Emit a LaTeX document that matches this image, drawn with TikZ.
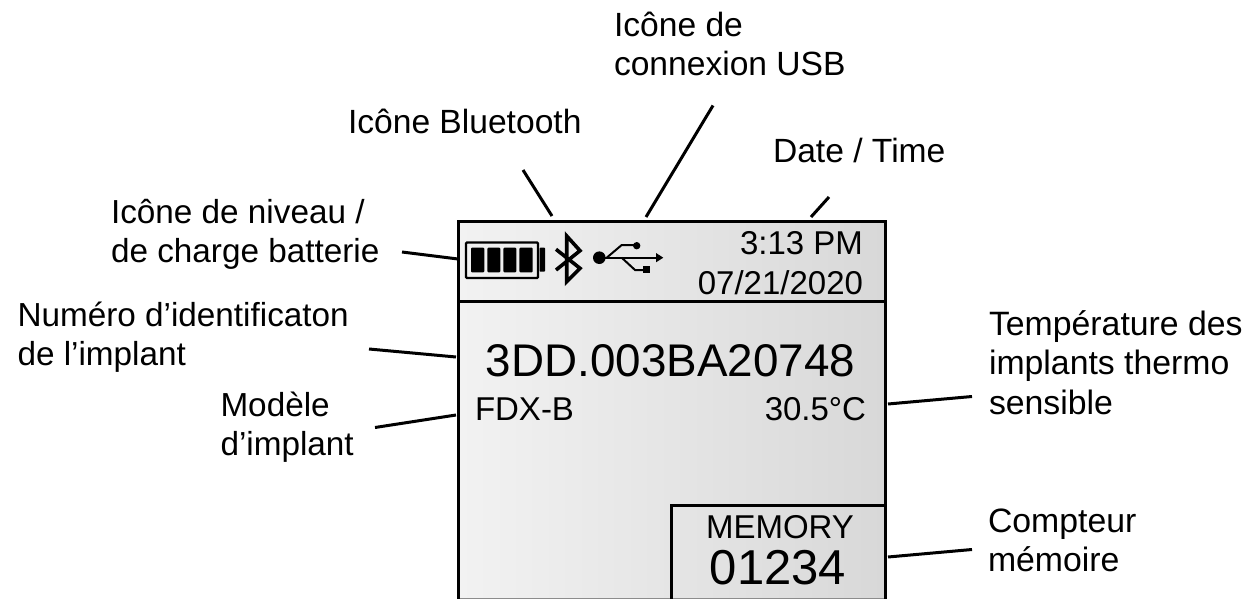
\documentclass[tikz,border=0pt]{standalone}
\usepackage{fontspec}
\setmainfont{Liberation Sans}
\definecolor{panelL}{HTML}{F2F2F2}
\definecolor{panelR}{HTML}{D8D8D8}
\tikzset{
  lab/.style={inner sep=0pt,outer sep=0pt,align=left,anchor=base west,font=\fontsize{33.6}{39.5}\selectfont},
  labl/.style={lab,font=\fontsize{33.3}{39.5}\selectfont},
  val/.style={inner sep=0pt,outer sep=0pt,font=\fontsize{33}{33}\selectfont},
  leader/.style={draw=black,line width=3pt},
  frame/.style={draw=black,line width=3pt},
  usbline/.style={draw=black,line width=2pt,line join=miter}
}
\begin{document}
\begin{tikzpicture}[x=1pt,y=-1pt]
\useasboundingbox (0,0) rectangle (1253,599);
\begin{scope}
\clip (0,0) rectangle (1253,599);
% panel
\shade[left color=panelL,right color=panelR] (458,221) rectangle (885,598);
\draw[black!45,line width=1pt] (458,598) -- (885,598);
\draw[frame] (458,599) -- (458,221) -- (885,221) -- (885,599);
\draw[frame] (458,301) -- (885,301);
\draw[frame] (671,599) -- (671,505) -- (885,505);
\end{scope}
% battery
\draw[black,line width=2.4pt,rounded corners=1pt] (466,242.5) rectangle (538,278);
\foreach \a/\b in {471/484.3,487.3/500.3,503.3/516.3,519.3/532.7}
  \fill[black,rounded corners=1pt] (\a,247.7) rectangle (\b,272.3);
\fill[black,rounded corners=0.8pt] (539.5,247.7) rectangle (545,271.7);
% bluetooth
\draw[black,line width=3.6pt,line join=miter] (556,270) -- (580,250.7) -- (566.7,236) -- (566.7,281.7) -- (580,268.3) -- (556,249.3);
% usb
\fill[black] (599.3,257.7) circle (6.3);
\draw[usbline] (605,257.7) -- (657,257.7);
\draw[usbline] (606.7,257.7) -- (621.7,245) -- (634,245);
\draw[usbline] (621.7,257.7) -- (635,270) -- (644,270);
\fill[black] (636.7,245.7) circle (3.7);
\fill[black] (642.7,266) rectangle (650,273.3);
\fill[black] (656,253) -- (663.3,257.7) -- (656,262.3) -- cycle;
% display values
\node[val,anchor=base east] (time) at (863,254) {3:13 PM};
\node[val,anchor=base east] (date) at (863,294) {07/21/2020};
\node[val,anchor=base,font=\fontsize{45.8}{46}\selectfont] (id) at (670.5,376.5) {3DD.003BA20748};
\node[val,anchor=base west] (model) at (475,420.5) {FDX-B};
\node[val,anchor=base east] (temp) at (866,420.5) {30.5°C};
\node[val,anchor=base] (memory) at (780,538.5) {MEMORY};
\node[val,anchor=base,font=\fontsize{49}{49}\selectfont] (count) at (778,584.5) {01234};
% labels
\node[lab] (usb) at (614,76) {Icône de\\connexion USB};
\node[lab] (bt) at (348,134) {Icône Bluetooth};
\node[lab] (dt) at (773,162.5) {Date / Time};
\node[labl] (bat) at (111,262.5) {Icône de niveau /\\de charge batterie};
\node[labl] (num) at (17.5,365.5) {Numéro d’identificaton\\de l’implant};
\node[labl] (mod) at (220.5,455.5) {Modèle\\d’implant};
\node[lab,font=\fontsize{33.8}{39.5}\selectfont] (tmp) at (989,414) {Température des\\implants thermo\\sensible};
\node[lab,font=\fontsize{33.8}{39.5}\selectfont] (cpt) at (988,571.5) {Compteur\\mémoire};
% leader ends
\coordinate (l1a) at (402,252); \coordinate (l1b) at (458,259);
\coordinate (l2a) at (523,170); \coordinate (l2b) at (552,216);
\coordinate (l3a) at (713,105.5); \coordinate (l3b) at (646,217);
\coordinate (l4a) at (829,197); \coordinate (l4b) at (811,217);
\coordinate (l5a) at (369,349); \coordinate (l5b) at (456,357);
\coordinate (l6a) at (375,427.5); \coordinate (l6b) at (456,415);
\coordinate (l7a) at (972,396.5); \coordinate (l7b) at (888,404);
\coordinate (l8a) at (972,549.5); \coordinate (l8b) at (888,557);
\foreach \n in {1,...,8} \draw[leader] (l\n a) -- (l\n b);
\end{tikzpicture}
\end{document}
